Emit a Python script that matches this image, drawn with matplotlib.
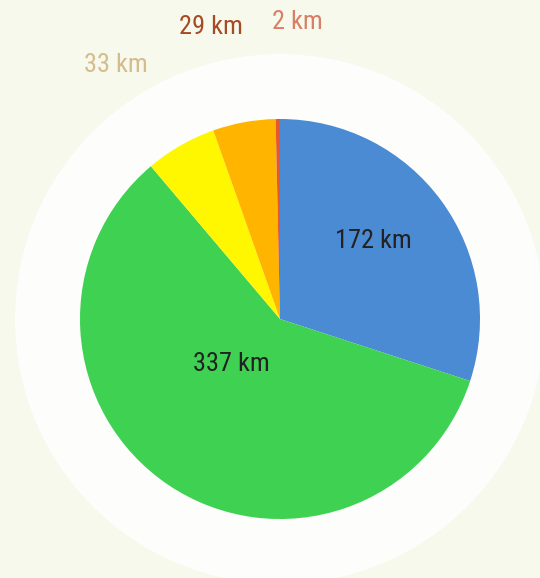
import numpy as np
import matplotlib.pyplot as plt
from matplotlib.patches import Circle
from matplotlib import font_manager

labels = ['172 km', '337 km', '33 km', '29 km', '2 km']
values = [172, 337, 33, 29, 2]
colors = ['#4a8bd4', '#3fd152', '#fff700', '#ffb400', '#e8572a']
label_colors = ['#222222', '#222222', '#d4bc8c', '#a64b24', '#d97f66']

# look for a condensed face, else plain Roboto
condensed = [f for f in font_manager.fontManager.ttflist
             if f.name in ('Roboto Condensed', 'Liberation Sans Narrow')
             or (f.name == 'Roboto' and f.stretch in ('condensed', 'semi-condensed', 500, 300))]
if condensed:
    family, fsize = condensed[0].name, 19
    stretch = condensed[0].stretch
else:
    family, fsize, stretch = 'Roboto', 16.5, 'normal'

fig = plt.figure(figsize=(5.4, 5.78), dpi=100)
fig.patch.set_facecolor('#f6f9ec')
ax = fig.add_axes([0, 0, 1, 1])
ax.set_facecolor('#f6f9ec')

cx, cy, r = 280, 259, 200  # y measured from bottom (578 - 319)
ax.add_patch(Circle((cx, cy), 265, facecolor='#fdfdfb', edgecolor='none', zorder=0))

wedges, _ = ax.pie(values, colors=colors, startangle=90, counterclock=False,
                   center=(cx, cy), radius=r, frame=True,
                   wedgeprops=dict(linewidth=0))

# label placement: fraction of radius and angle nudge (deg)
dist = [0.61, 0.33, 1.51, 1.50, 1.49]
nudge = [4, -13, 3, 3, -4]
for w, lab, col, d, n in zip(wedges, labels, label_colors, dist, nudge):
    ang = np.deg2rad((w.theta1 + w.theta2) / 2 + n)
    x = cx + d * r * np.cos(ang)
    y = cy + d * r * np.sin(ang)
    ax.text(x, y, lab, ha='center', va='center', color=col,
            fontsize=fsize, family=family, fontstretch=stretch)

ax.set_xlim(0, 540)
ax.set_ylim(0, 578)
ax.set_aspect('equal')
ax.axis('off')
fig.savefig('out.png', dpi=100, facecolor=fig.get_facecolor())
